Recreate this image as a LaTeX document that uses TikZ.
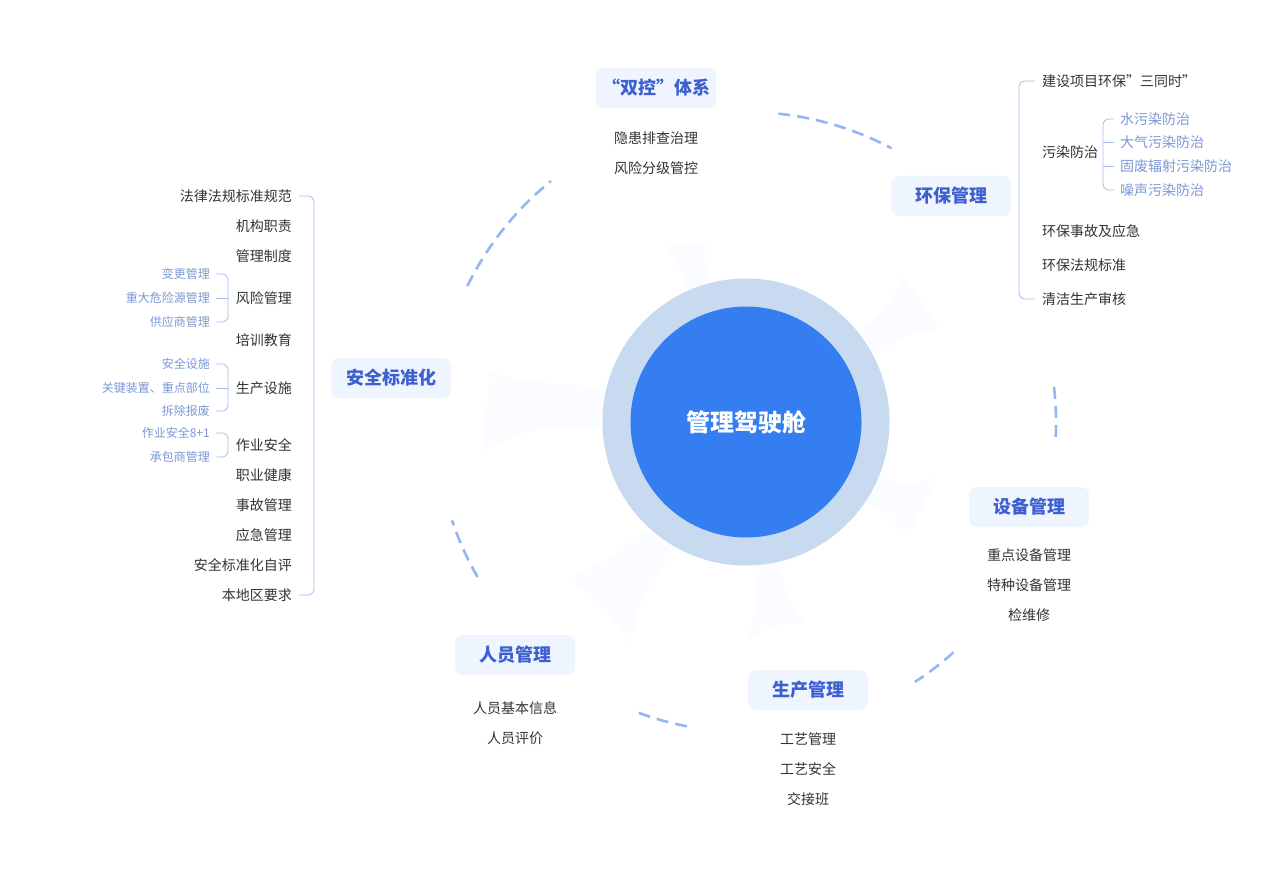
\documentclass[tikz,border=0pt]{standalone}
\usepackage{fontspec}
\setmainfont{Noto Sans CJK SC}
\usepackage{tikz}
\usetikzlibrary{positioning,calc}

\definecolor{txt}{HTML}{333333}
\definecolor{subc}{HTML}{7B98D6}
\definecolor{titc}{HTML}{3D5FCF}
\definecolor{boxc}{HTML}{EEF5FF}
\definecolor{brkc}{HTML}{A3BEEE}
\definecolor{dashc}{HTML}{92B7F4}
\definecolor{ringc}{HTML}{C8DAEF}
\definecolor{corec}{HTML}{347EF1}
\definecolor{wedge}{HTML}{FAFCFF}

\tikzset{
  item/.style={text=txt, font=\fontsize{14}{16}\selectfont, inner sep=1pt},
  sub/.style={text=subc, font=\fontsize{12}{14}\selectfont, inner sep=1pt},
  title/.style={fill=boxc, rounded corners=8pt, minimum width=120pt, minimum height=40pt,
    text=titc, font=\bfseries\fontsize{18}{20}\selectfont},
  brk/.style={draw=brkc, line width=0.8pt, rounded corners=6pt},
  ring/.style={draw=dashc, line width=2.6pt, dash pattern=on 12pt off 7pt}
}

\begin{document}
\begin{tikzpicture}[x=1pt, y=-1pt]
		\useasboundingbox (0,0) rectangle (1273,869);
		\fill[white] (0,0) rectangle (1273,869);
		
		% faint blades behind the hub
		\fill[wedge] (490,373) .. controls (540,383) .. (612,388) -- (612,428) .. controls (540,425) .. (483,450) -- cycle;
		\fill[wedge] (665,248) .. controls (680,265) .. (690,295) -- (714,292) .. controls (705,270) .. (705,242) -- cycle;
		\fill[wedge] (903,277) .. controls (890,305) .. (860,330) -- (876,356) .. controls (905,335) .. (940,328) -- cycle;
		\fill[wedge] (937,478) .. controls (905,485) .. (876,476) -- (866,502) .. controls (890,515) .. (907,537) -- cycle;
		\fill[wedge] (780,556) .. controls (785,595) .. (805,623) .. controls (770,625) .. (748,640) .. controls (758,600) .. (752,560) -- cycle;
		\fill[wedge] (645,530) .. controls (610,560) .. (567,580) .. controls (600,600) .. (630,643) .. controls (640,600) .. (676,548) -- cycle;
		
		\node[circle, fill=ringc, minimum size=287pt] (Ring) at (746,422) {};
		\node[circle, fill=corec, minimum size=231pt, text=white, font=\bfseries\fontsize{24}{28}\selectfont] (Core) at (746,422) {管理驾驶舱};
		
		% dashed orbit pieces
		\draw[ring] (Core) ++(206:310) arc[start angle=206, end angle=231, radius=310];
		\draw[ring] (Core) ++(276:310) arc[start angle=276, end angle=298, radius=310];
		\draw[ring] (Core) ++(-6.5:310) arc[start angle=-6.5, end angle=3, radius=310];
		\draw[ring] (Core) ++(48:310) arc[start angle=48, end angle=57, radius=310];
		\draw[ring] (Core) ++(101:310) arc[start angle=101, end angle=110.5, radius=310];
		\draw[ring] (Core) ++(150:310) arc[start angle=150, end angle=161.5, radius=310];
		
		% titles
		\node[title] (S) at (391,378) {安全标准化};
		\node[title] (K) at (656,88) {“双控”体系};
		\node[title] (H) at (951,196) {环保管理};
		\node[title] (D) at (1029,507) {设备管理};
		\node[title] (P) at (808,690) {生产管理};
		\node[title] (R) at (515,655) {人员管理};
		
		% 双控
		\node[item] (K1) at (656,138) {隐患排查治理};
		\node[item] (K2) at (656,168) {风险分级管控};
		
		% 设备
		\node[item] (D1) at (1029,555) {重点设备管理};
		\node[item] (D2) at (1029,585) {特种设备管理};
		\node[item] (D3) at (1029,615) {检维修};
		
		% 生产
		\node[item] (P1) at (808,739) {工艺管理};
		\node[item] (P2) at (808,769) {工艺安全};
		\node[item] (P3) at (808,799) {交接班};
		
		% 人员
		\node[item] (R1) at (515,708) {人员基本信息};
		\node[item] (R2) at (515,738) {人员评价};
		
		% 安全标准化 tree
		\node[item, anchor=east] (A1) at (293,196) {法律法规标准规范};
		\node[item, anchor=east] (A2) at (293,226) {机构职责};
		\node[item, anchor=east] (A3) at (293,256) {管理制度};
		\node[item, anchor=east] (A4) at (293,298) {风险管理};
		\node[item, anchor=east] (A5) at (293,340) {培训教育};
		\node[item, anchor=east] (A6) at (293,388) {生产设施};
		\node[item, anchor=east] (A7) at (293,445) {作业安全};
		\node[item, anchor=east] (A8) at (293,475) {职业健康};
		\node[item, anchor=east] (A9) at (293,505) {事故管理};
		\node[item, anchor=east] (A10) at (293,535) {应急管理};
		\node[item, anchor=east] (A11) at (293,565) {安全标准化自评};
		\node[item, anchor=east] (A12) at (293,595) {本地区要求};
		
		\node[sub, anchor=east] (B1) at (211,274) {变更管理};
		\node[sub, anchor=east] (B2) at (211,298) {重大危险源管理};
		\node[sub, anchor=east] (B3) at (211,322) {供应商管理};
		\node[sub, anchor=east] (B4) at (211,364) {安全设施};
		\node[sub, anchor=east] (B5) at (211,388) {关键装置、重点部位};
		\node[sub, anchor=east] (B6) at (211,411) {拆除报废};
		\node[sub, anchor=east] (B7) at (211,433) {作业安全8+1};
		\node[sub, anchor=east] (B8) at (211,457) {承包商管理};
		
		\draw[brk] ([xshift=6pt]A1.east) -| ([xshift=21pt]A12.east) -- ([xshift=6pt]A12.east);
		\draw[brk] ([xshift=5pt]B1.east) -| ([xshift=17pt]B3.east) -- ([xshift=5pt]B3.east);
		\draw[brk] ([xshift=5pt]B2.east) -- ([xshift=17pt]B2.east);
		\draw[brk] ([xshift=5pt]B4.east) -| ([xshift=17pt]B6.east) -- ([xshift=5pt]B6.east);
		\draw[brk] ([xshift=5pt]B5.east) -- ([xshift=17pt]B5.east);
		\draw[brk] ([xshift=5pt]B7.east) -| ([xshift=17pt]B8.east) -- ([xshift=5pt]B8.east);
		
		% 环保管理 tree
		\node[item, anchor=west] (E1) at (1041,81) {建设项目环保”三同时”};
		\node[item, anchor=west] (E2) at (1041,152) {污染防治};
		\node[item, anchor=west] (E3) at (1041,231) {环保事故及应急};
		\node[item, anchor=west] (E4) at (1041,265) {环保法规标准};
		\node[item, anchor=west] (E5) at (1041,299) {清洁生产审核};
		
		\node[sub, anchor=west, font=\fontsize{14}{16}\selectfont] (F1) at (1119,119) {水污染防治};
		\node[sub, anchor=west, font=\fontsize{14}{16}\selectfont] (F2) at (1119,142) {大气污染防治};
		\node[sub, anchor=west, font=\fontsize{14}{16}\selectfont] (F3) at (1119,166) {固废辐射污染防治};
		\node[sub, anchor=west, font=\fontsize{14}{16}\selectfont] (F4) at (1119,190) {噪声污染防治};
		
		\draw[brk] ([xshift=-6pt]E1.west) -| ([xshift=-22pt]E5.west) -- ([xshift=-6pt]E5.west);
		\draw[brk] ([xshift=-5pt]F1.west) -| ([xshift=-16pt]F4.west) -- ([xshift=-5pt]F4.west);
		\draw[brk] ([xshift=-5pt]F2.west) -- ([xshift=-16pt]F2.west);
		\draw[brk] ([xshift=-5pt]F3.west) -- ([xshift=-16pt]F3.west);
		\end{tikzpicture}
\end{document}
